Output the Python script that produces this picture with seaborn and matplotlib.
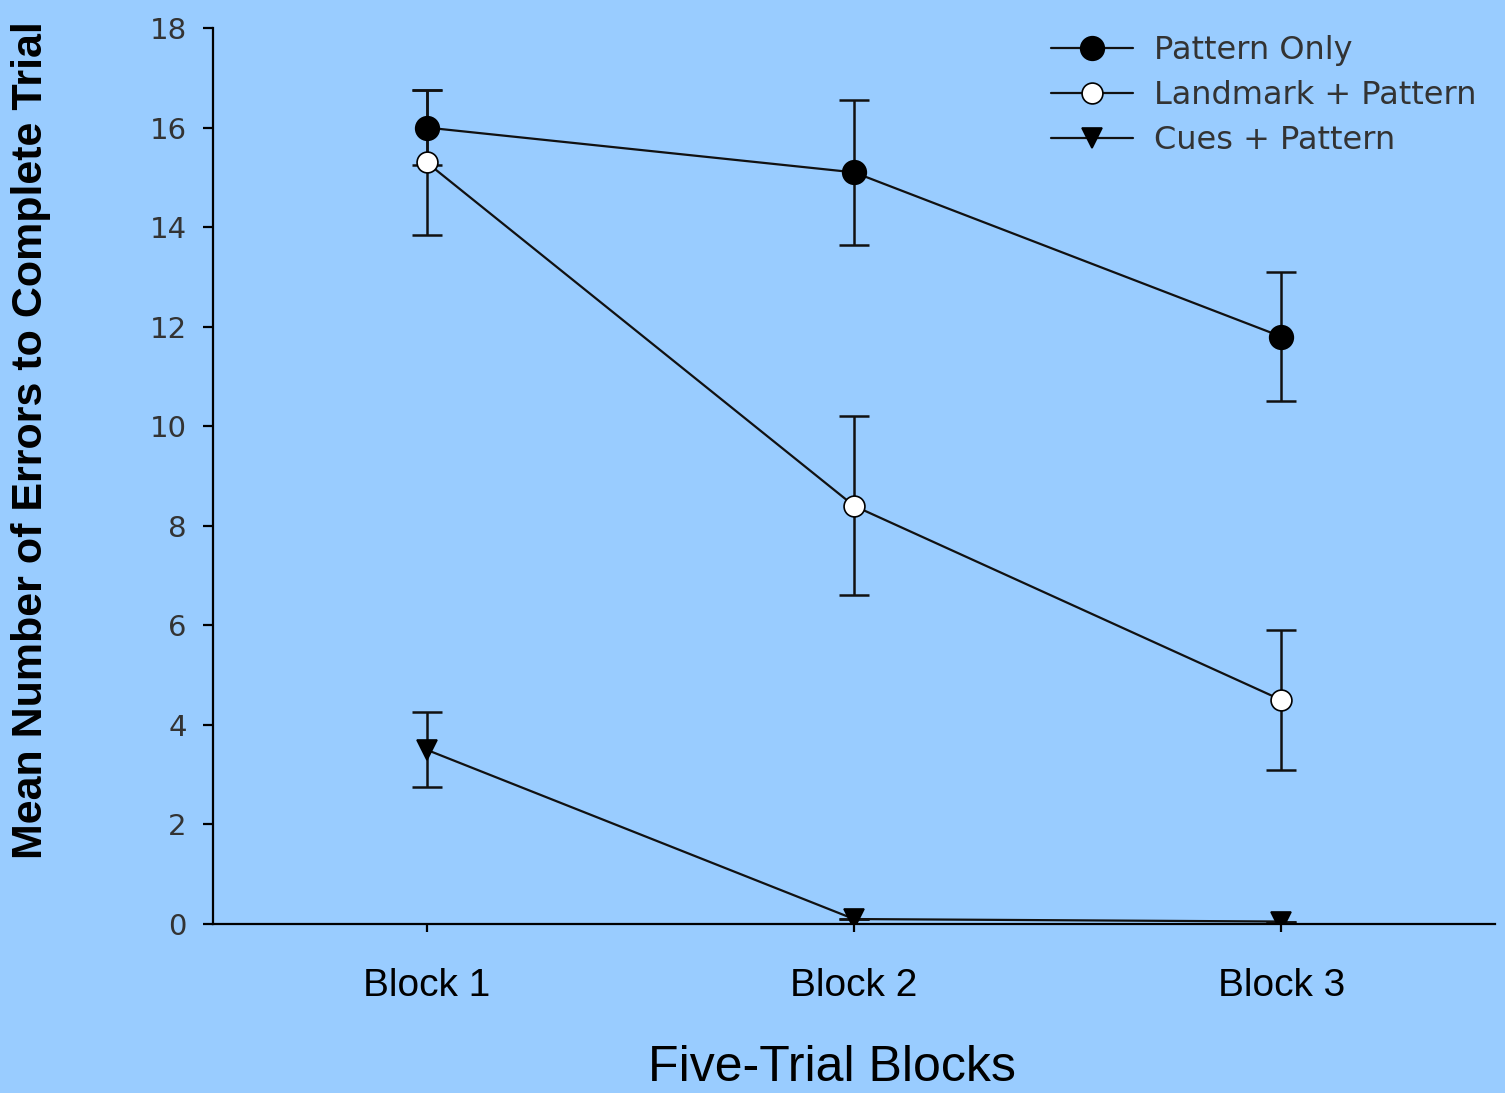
import matplotlib
matplotlib.use('Agg')
import matplotlib.pyplot as plt
import seaborn as sns
import pandas as pd

# data
blocks = ['Block 1', 'Block 2', 'Block 3']
pattern_only = [16.0, 15.1, 11.8]
pattern_only_err = [0.75, 1.45, 1.3]
landmark_pattern = [15.3, 8.4, 4.5]
landmark_pattern_err = [1.45, 1.8, 1.4]
cues_pattern = [3.5, 0.1, 0.05]
cues_pattern_err = [0.75, 0.0, 0.0]
y_ticks = [0, 2, 4, 6, 8, 10, 12, 14, 16, 18]

BG = '#99ccff'

sns.set_theme(style="ticks", rc={
    "axes.facecolor": BG,
    "figure.facecolor": BG,
    "axes.edgecolor": "black",
    "axes.linewidth": 1.6,
    "text.color": "black",
    "axes.labelcolor": "black",
    "xtick.color": "black",
    "ytick.color": "black",
})
plt.rcParams['font.family'] = ['Liberation Sans', 'DejaVu Sans']

series = [
    ('Pattern Only', pattern_only, pattern_only_err, 'o', 'black', 17),
    ('Landmark + Pattern', landmark_pattern, landmark_pattern_err, 'o', 'white', 15),
    ('Cues + Pattern', cues_pattern, cues_pattern_err, 'v', 'black', 15),
]

fig = plt.figure(figsize=(15.05, 10.93), dpi=100)
ax = fig.add_axes([0.1415, 0.1546, 0.8519, 0.8198])

for name, vals, errs, mk, fc, ms in series:
    df = pd.DataFrame({'x': range(len(blocks)), 'y': vals})
    ax.errorbar(df['x'], df['y'], yerr=errs, fmt='none', ecolor='#111111',
                elinewidth=1.8, capsize=10.5, capthick=1.8, zorder=2)
    sns.lineplot(data=df, x='x', y='y', ax=ax, color='#111111', lw=1.6,
                 marker=mk, markersize=ms, markerfacecolor=fc,
                 markeredgecolor='black', markeredgewidth=1.2,
                 label=name, zorder=3)

ax.set_xlim(-0.5, 2.5)
ax.set_ylim(0, 18)
ax.set_xticks(range(len(blocks)))
ax.set_xticklabels(blocks, fontsize=28)
ax.set_yticks(y_ticks)
ax.set_yticklabels([str(t) for t in y_ticks], fontsize=21, color='#333333',
                   family='DejaVu Sans')
ax.tick_params(axis='y', length=7, width=1.6, pad=12)
ax.tick_params(axis='x', length=6, width=1.6, pad=26)
sns.despine(ax=ax)

ax.set_xlabel('Five-Trial Blocks', fontsize=36)
ax.xaxis.set_label_coords(0.483, -0.135)
ax.set_ylabel('Mean Number of Errors to Complete Trial', fontsize=31,
              fontweight='bold')
ax.yaxis.set_label_coords(-0.126, 0.54)

leg = ax.legend(loc='upper left', bbox_to_anchor=(0.641, 1.01), frameon=False,
                borderpad=0, handlelength=2.56, handletextpad=0.66,
                labelspacing=0.44, prop={'family': 'DejaVu Sans', 'size': 23})
for t in leg.get_texts():
    t.set_color('#333333')

plt.savefig('out.png', dpi=100, facecolor=BG)
plt.close()
